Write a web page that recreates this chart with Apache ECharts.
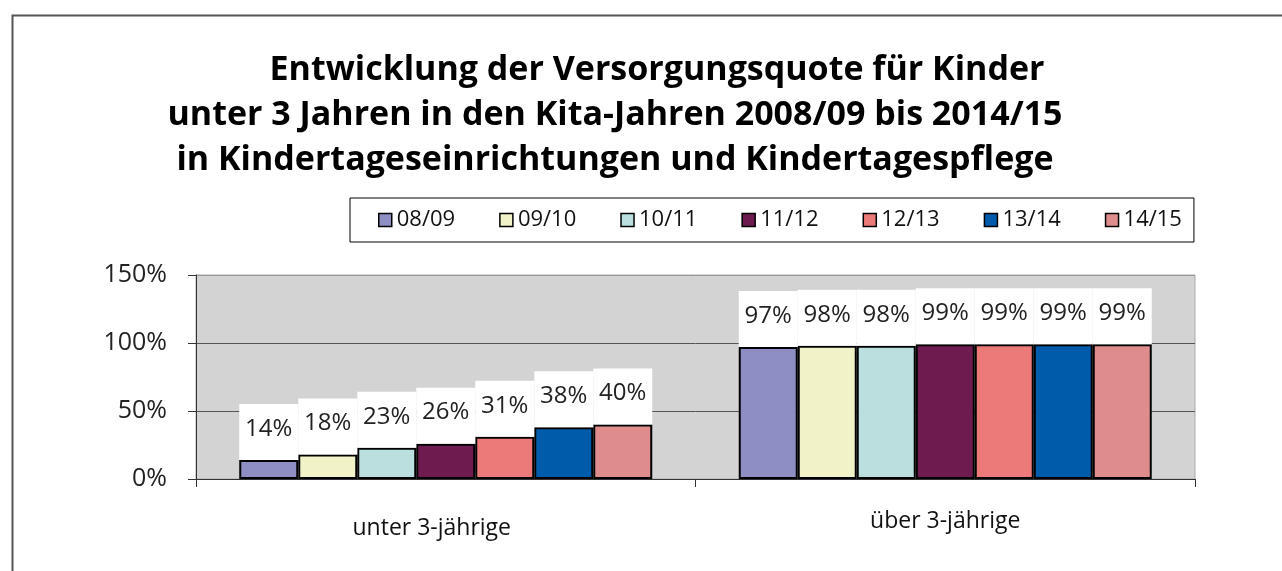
<!DOCTYPE html>
<html>
<head>
<meta charset="utf-8">
<script src="https://cdn.jsdelivr.net/npm/echarts@6/dist/echarts.min.js"></script>
<style>
  html, body { margin: 0; padding: 0; background: #fff; }
  #main { width: 1282px; height: 571px; }
</style>
</head>
<body>
<div id="main"></div>
<script>
// Kategorien und Werte (Versorgungsquote in %)
var categories = ['unter 3-jährige', 'über 3-jährige'];
var years = ['08/09', '09/10', '10/11', '11/12', '12/13', '13/14', '14/15'];
var unter3 = [14, 18, 23, 26, 31, 38, 40];
var ueber3 = [97, 98, 98, 99, 99, 99, 99];
var yTicks = [0, 50, 100, 150];

var colors = ['#8e8ec4', '#f2f2c8', '#bbdfdf', '#6e1b50', '#ec7a78', '#005baa', '#de8c8c'];

var myChart = echarts.init(document.getElementById('main'));

var series = [];
for (var i = 0; i < years.length; i++) {
    series.push({
        name: years[i],
        type: 'bar',
        barWidth: 59,
        barGap: '0%',
        data: [unter3[i], ueber3[i]],
        itemStyle: {color: colors[i], borderColor: '#000', borderWidth: 2},
        label: {
            show: true,
            position: 'top',
            distance: 0,
            formatter: '{c}%',
            backgroundColor: '#fff',
            width: 59,
            lineHeight: 24,
            padding: [13, 0, 19, 0],
            align: 'center',
            color: '#222',
            fontFamily: 'Open Sans',
            fontSize: 24
        }
    });
}

var titleStyle = {
    fontFamily: 'Open Sans',
    fontWeight: 'bold',
    fontSize: 34,
    lineHeight: 45,
    color: '#000'
};

var option = {
    animation: false,
    title: [{
        left: 652,
        textAlign: 'center',
        top: 43,
        text: 'Entwicklung der Versorgungsquote für Kinder',
        textStyle: titleStyle
    }, {
        left: 610,
        textAlign: 'center',
        top: 88,
        text: 'unter 3 Jahren in den Kita-Jahren 2008/09 bis 2014/15\nin Kindertageseinrichtungen und Kindertagespflege',
        textStyle: titleStyle
    }],
    graphic: [{
        type: 'rect',
        left: 10,
        top: 13,
        shape: {width: 1300, height: 600},
        style: {fill: 'none', stroke: '#555', lineWidth: 2}
    }],
    legend: {
        left: 350,
        top: 198,
        width: 843,
        padding: [10, 12, 10, 28],
        backgroundColor: '#fff',
        borderColor: '#000',
        borderWidth: 1,
        itemWidth: 13,
        itemHeight: 13,
        itemGap: 44,
        icon: 'rect',
        itemStyle: {borderColor: '#000', borderWidth: 1.5},
        textStyle: {fontFamily: 'Open Sans', fontSize: 22, lineHeight: 24, color: '#111'},
        data: years
    },
    grid: {
        left: 196,
        right: 87,
        top: 275,
        bottom: 92,
        show: true,
        backgroundColor: '#d3d3d3',
        borderColor: '#aaa',
        borderWidth: 1
    },
    xAxis: {
        type: 'category',
        data: [
            {value: categories[0], textStyle: {padding: [7, 28, 0, 0]}},
            {value: categories[1], textStyle: {padding: [0, 0, 0, 0]}}
        ],
        axisLine: {lineStyle: {color: '#333', width: 1}},
        axisTick: {show: true, length: 8, lineStyle: {color: '#333'}},
        axisLabel: {fontFamily: 'Open Sans', fontSize: 23, lineHeight: 30, color: '#111', margin: 27}
    },
    yAxis: {
        type: 'value',
        min: yTicks[0],
        max: yTicks[yTicks.length - 1],
        interval: 50,
        axisLine: {show: true, lineStyle: {color: '#333', width: 1}},
        axisTick: {show: true, length: 8, lineStyle: {color: '#333'}},
        axisLabel: {formatter: '{value}%', fontFamily: 'Open Sans', fontSize: 25, color: '#222', margin: 29},
        splitLine: {lineStyle: {color: ['#555', '#555', '#555', '#999']}}
    },
    color: colors,
    series: series
};

myChart.setOption(option);
</script>
</body>
</html>
